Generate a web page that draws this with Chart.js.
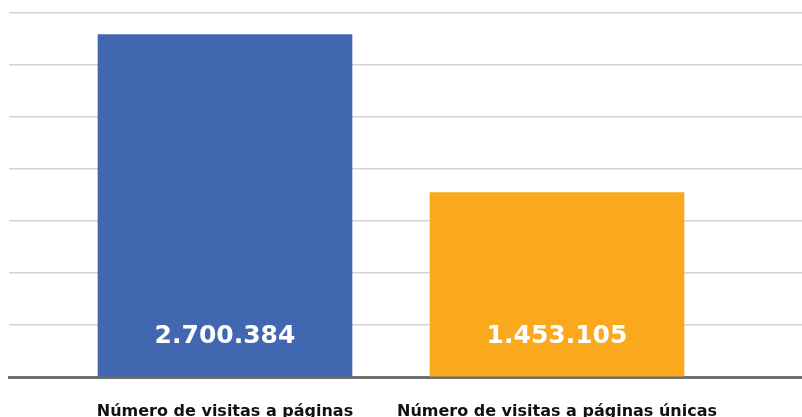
<!DOCTYPE html>
<html>
<head>
<meta charset="utf-8">
<script src="https://cdn.jsdelivr.net/npm/chart.js@4/dist/chart.umd.min.js"></script>
<style>
  html, body { margin: 0; padding: 0; background: #fff; overflow: hidden; }
  #wrap { width: 802px; height: 430px; position: relative; }
</style>
</head>
<body>
<div id="wrap"><canvas id="bars"></canvas></div>
<script>
const labels = ["Número de visitas a páginas", "Número de visitas a páginas únicas"];
const values = [2700384, 1453105];
const colors = ["#4267b1", "#faa81c"];
const yTicks = [0, 410000, 820000, 1230000, 1640000, 2050000, 2460000, 2870000];

function fmt(n) {
  return n.toString().replace(/\B(?=(\d{3})+(?!\d))/g, ".");
}

// white value text near the bottom of each bar
const valueLabels = {
  id: "valueLabels",
  afterDatasetsDraw(chart) {
    const ctx = chart.ctx;
    const meta = chart.getDatasetMeta(0);
    ctx.save();
    ctx.fillStyle = "#ffffff";
    ctx.font = "bold 25px 'DejaVu Sans'";
    ctx.textAlign = "center";
    ctx.textBaseline = "middle";
    meta.data.forEach((bar, i) => {
      ctx.fillText(fmt(values[i]), bar.x, bar.base - 40);
    });
    ctx.restore();
  },
};

const barCtx = document.getElementById("bars");
new Chart(barCtx, {
  type: "bar",
  data: {
    datasets: [
      {
        data: values.map((v, i) => ({ x: i, y: v })),
        backgroundColor: colors,
        barThickness: 254,
      },
    ],
  },
  options: {
    responsive: true,
    maintainAspectRatio: false,
    animation: false,
    layout: { padding: { top: 13, left: 9, right: 0, bottom: 0 } },
    plugins: { legend: { display: false }, tooltip: { enabled: false } },
    scales: {
      x: {
        type: "linear",
        offset: false,
        min: -0.6506,
        max: 1.738,
        grid: { display: false, drawTicks: false },
        border: { color: "#6e6e6e", width: 3 },
        ticks: {
          stepSize: 1,
          autoSkip: false,
          maxRotation: 0,
          padding: 25,
          color: "#111111",
          font: { family: "DejaVu Sans", weight: "bold", size: 16 },
          callback: (v) => (Number.isInteger(v) && labels[v] ? labels[v] : ""),
        },
        afterFit: (scale) => {
          scale.height = 430 - 377;
          scale.paddingLeft = 0;
          scale.paddingRight = 0;
        },
      },
      y: {
        min: 0,
        max: yTicks[yTicks.length - 1],
        afterBuildTicks: (scale) => { scale.ticks = yTicks.map((v) => ({ value: v })); },
        grid: { color: "#d4d4d4", lineWidth: 1.5, drawTicks: false },
        border: { display: false },
        ticks: { display: false },
        afterFit: (scale) => {
          scale.width = 0;
          scale.paddingTop = 0;
          scale.paddingBottom = 0;
        },
      },
    },
  },
  plugins: [valueLabels],
});
</script>
</body>
</html>
